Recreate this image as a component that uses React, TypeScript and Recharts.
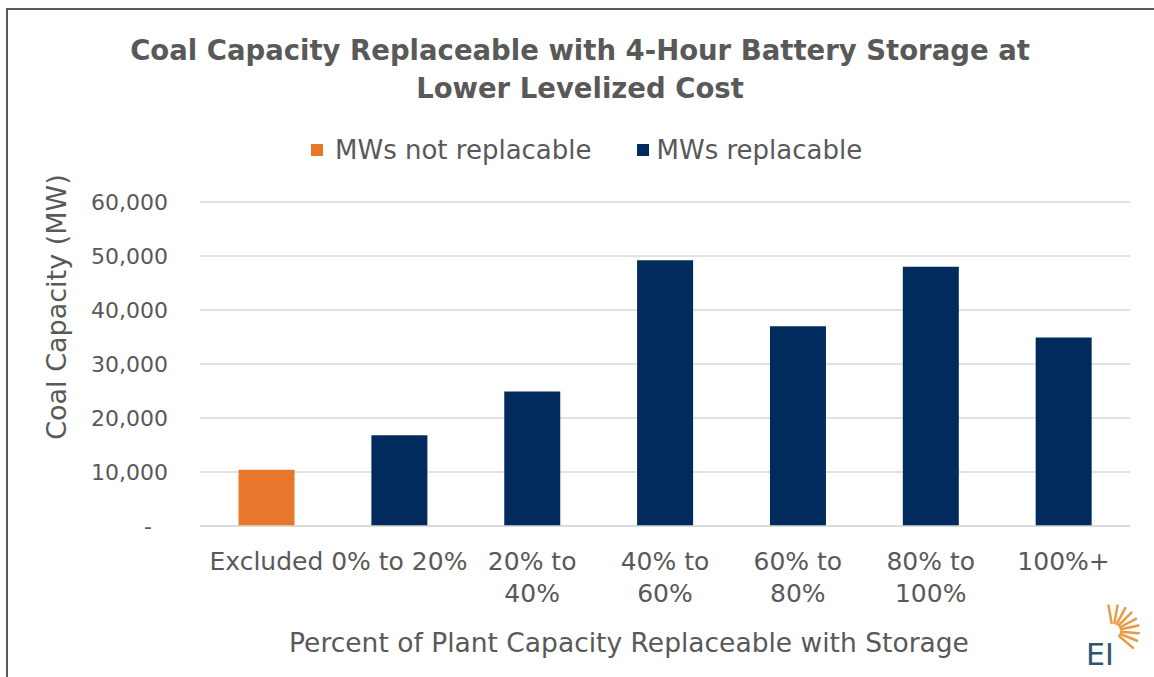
import React from 'react'
import { BarChart, Bar, XAxis, YAxis, CartesianGrid, Legend } from 'recharts'

const categories = ['Excluded', '0% to 20%', '20% to 40%', '40% to 60%', '60% to 80%', '80% to 100%', '100%+']
const tickLines = [['Excluded'], ['0% to 20%'], ['20% to', '40%'], ['40% to', '60%'], ['60% to', '80%'], ['80% to', '100%'], ['100%+']]
const notReplacable = [10400, null, null, null, null, null, null]
const replacable = [null, 16800, 24900, 49200, 37000, 48000, 34900]
const yTicks = [0, 10000, 20000, 30000, 40000, 50000, 60000]

const seriesNames = ['MWs not replacable', 'MWs replacable']
const ORANGE = '#E8762B'
const NAVY = '#002B5C'
const GREY = '#595959'
const FONT = '"DejaVu Sans", sans-serif'

const data = categories.map((c, i) => ({ name: c, notRep: notReplacable[i], rep: replacable[i] }))

const XTick = (props: any) => {
    const { x, y, index } = props
    const lines = tickLines[index] || []
    return (
        <g>
            {lines.map((l, i) => (
                <text key={i} x={x} y={y + 36 + i * 32} textAnchor="middle" fill={GREY} fontSize={25} fontFamily={FONT}>{l}</text>
            ))}
        </g>
    )
}

const YTick = (props: any) => {
    const { x, y, payload } = props
    const v = payload.value
    if (v === 0) {
        return <text x={x - 16} y={y + 8} textAnchor="end" fill={GREY} fontSize={22} fontFamily={FONT}>-</text>
    }
    return <text x={x} y={y + 8} textAnchor="end" fill={GREY} fontSize={22} fontFamily={FONT}>{v.toLocaleString('en-US')}</text>
}

const LegendContent = () => (
    <div style={{ display: 'flex', alignItems: 'center', fontFamily: FONT, fontSize: 26, lineHeight: '30px', color: GREY, paddingLeft: 311 }}>
        <span style={{ width: 12, height: 12, background: ORANGE, display: 'inline-block', marginRight: 12 }} />
        <span style={{ marginRight: 45 }}>{seriesNames[0]}</span>
        <span style={{ width: 12, height: 12, background: NAVY, display: 'inline-block', marginRight: 8 }} />
        <span>{seriesNames[1]}</span>
    </div>
)

function Logo() {
    const rays = [-100, -80, -62, -45, -28, -12, 5, 22, 40]
    return (
        <svg width={70} height={80} style={{ position: 'absolute', left: 1078, top: 595 }}>
            {rays.map((a, i) => {
                const r = (a * Math.PI) / 180
                const cx = 35, cy = 36
                return <line key={i} x1={cx + Math.cos(r) * 8} y1={cy + Math.sin(r) * 8} x2={cx + Math.cos(r) * 26} y2={cy + Math.sin(r) * 26}
                    stroke="#E99A45" strokeWidth={2.5} strokeLinecap="round" />
            })}
            <text x={8} y={70} fontFamily={FONT} fontSize={30} fill="#2D5573">EI</text>
        </svg>
    )
}

export default function App() {
    return (
        <div style={{ position: 'absolute', left: 0, top: 0, width: 1154, height: 677, overflow: 'hidden', background: '#fff' }}>
            <div style={{ position: 'absolute', left: 6, top: 8, width: 1200, height: 720, border: `2px solid ${GREY}` }} />
            <div style={{ position: 'absolute', left: 0, top: 31, width: 1160, textAlign: 'center', fontFamily: FONT, fontWeight: 'bold', fontSize: 27.5, lineHeight: '38px', color: GREY }}>
                Coal Capacity Replaceable with 4-Hour Battery Storage at<br />Lower Levelized Cost
            </div>
            <BarChart width={1154} height={677} data={data} margin={{ top: 202, right: 24, bottom: 0, left: 0 }}
                barCategoryGap="29%" style={{ position: 'absolute', left: 0, top: 0 }}>
                <CartesianGrid vertical={false} stroke="#D9D9D9" strokeWidth={1.5} />
                <XAxis dataKey="name" axisLine={{ stroke: '#D9D9D9', strokeWidth: 1.5 }} tickLine={false} interval={0}
                    tick={<XTick />} height={151}
                    label={{ content: () => <text x={629} y={652} textAnchor="middle" fill={GREY} fontSize={26.5} fontFamily={FONT}>Percent of Plant Capacity Replaceable with Storage</text> }} />
                <YAxis width={200} domain={[0, 60000]} ticks={yTicks} axisLine={false} tickLine={false} tickSize={0} tickMargin={32}
                    tick={<YTick />}
                    label={{ content: () => <text x={0} y={0} transform="translate(66,307) rotate(-90)" textAnchor="middle" fill={GREY} fontSize={27} fontFamily={FONT}>Coal Capacity (MW)</text> }} />
                <Legend verticalAlign="middle" content={<LegendContent />} wrapperStyle={{ top: 135, left: 0, width: 1154 }} />
                <Bar dataKey="notRep" name={seriesNames[0]} stackId="a" fill={ORANGE} isAnimationActive={false} />
                <Bar dataKey="rep" name={seriesNames[1]} stackId="a" fill={NAVY} isAnimationActive={false} />
            </BarChart>
            <Logo />
        </div>
    )
}
